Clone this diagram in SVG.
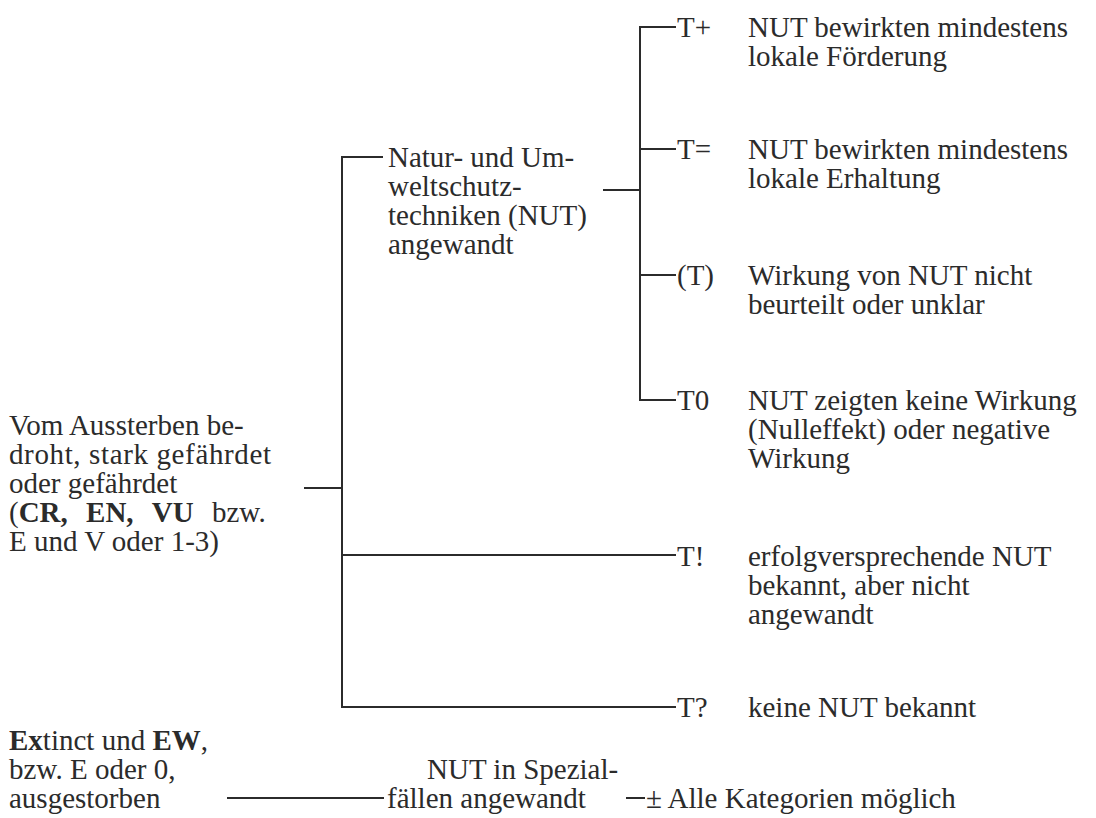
<svg xmlns="http://www.w3.org/2000/svg" width="1096" height="818" viewBox="0 0 1096 818">
<style>
text{font-family:"Liberation Serif","Times New Roman",serif;font-size:29px;fill:#2b2b2b}
.b{font-weight:bold}
.c line{stroke:#2b2b2b;stroke-width:2;fill:none}
</style>
<rect width="1096" height="818" fill="#fff"/>
<g class="c" id="connectors">
<line x1="342" y1="157" x2="342" y2="707"/>
<line x1="341" y1="157" x2="383" y2="157"/>
<line x1="304" y1="488" x2="342" y2="488"/>
<line x1="341" y1="555" x2="676" y2="555"/>
<line x1="341" y1="707" x2="676" y2="707"/>
<line x1="603" y1="190" x2="640" y2="190"/>
<line x1="640" y1="27" x2="640" y2="400"/>
<line x1="639" y1="27" x2="676" y2="27"/>
<line x1="639" y1="149" x2="676" y2="149"/>
<line x1="639" y1="275" x2="676" y2="275"/>
<line x1="639" y1="400" x2="676" y2="400"/>
<line x1="227" y1="798" x2="384" y2="798"/>
<line x1="626" y1="798" x2="645" y2="798"/>
</g>
<g id="root">
<text x="9" y="435">Vom Aussterben be-</text>
<text x="9" y="464" textLength="262" lengthAdjust="spacing">droht, stark gefährdet</text>
<text x="9" y="493">oder gefährdet</text>
<text x="9" y="522" word-spacing="11">(<tspan class="b">CR,</tspan> <tspan class="b">EN,</tspan> <tspan class="b">VU</tspan> bzw.</text>
<text x="9" y="551">E und V oder 1-3)</text>
</g>
<g id="extinct">
<text x="9" y="750"><tspan class="b">Ex</tspan>tinct und <tspan class="b">EW</tspan>,</text>
<text x="9" y="779">bzw. E oder 0,</text>
<text x="9" y="808">ausgestorben</text>
</g>
<g id="nut">
<text x="388" y="167">Natur- und Um-</text>
<text x="388" y="196">weltschutz-</text>
<text x="388" y="225">techniken (NUT)</text>
<text x="388" y="254">angewandt</text>
</g>
<g id="spezial">
<text x="427" y="779">NUT in Spezial-</text>
<text x="387" y="808">fällen angewandt</text>
</g>
<g id="tplus">
<text x="677" y="37">T+</text>
<text x="748" y="37">NUT bewirkten mindestens</text>
<text x="748" y="66">lokale Förderung</text>
</g>
<g id="tequal">
<text x="677" y="159">T=</text>
<text x="748" y="159">NUT bewirkten mindestens</text>
<text x="748" y="188">lokale Erhaltung</text>
</g>
<g id="tparen">
<text x="677" y="285">(T)</text>
<text x="748" y="285">Wirkung von NUT nicht</text>
<text x="748" y="314">beurteilt oder unklar</text>
</g>
<g id="tzero">
<text x="677" y="410">T0</text>
<text x="748" y="410">NUT zeigten keine Wirkung</text>
<text x="748" y="439">(Nulleffekt) oder negative</text>
<text x="748" y="468">Wirkung</text>
</g>
<g id="texcl">
<text x="677" y="566">T!</text>
<text x="748" y="566">erfolgversprechende NUT</text>
<text x="748" y="595">bekannt, aber nicht</text>
<text x="748" y="624">angewandt</text>
</g>
<g id="tquest">
<text x="677" y="717">T?</text>
<text x="748" y="717">keine NUT bekannt</text>
</g>
<g id="all">
<text x="646" y="808">± Alle Kategorien möglich</text>
</g>
</svg>
